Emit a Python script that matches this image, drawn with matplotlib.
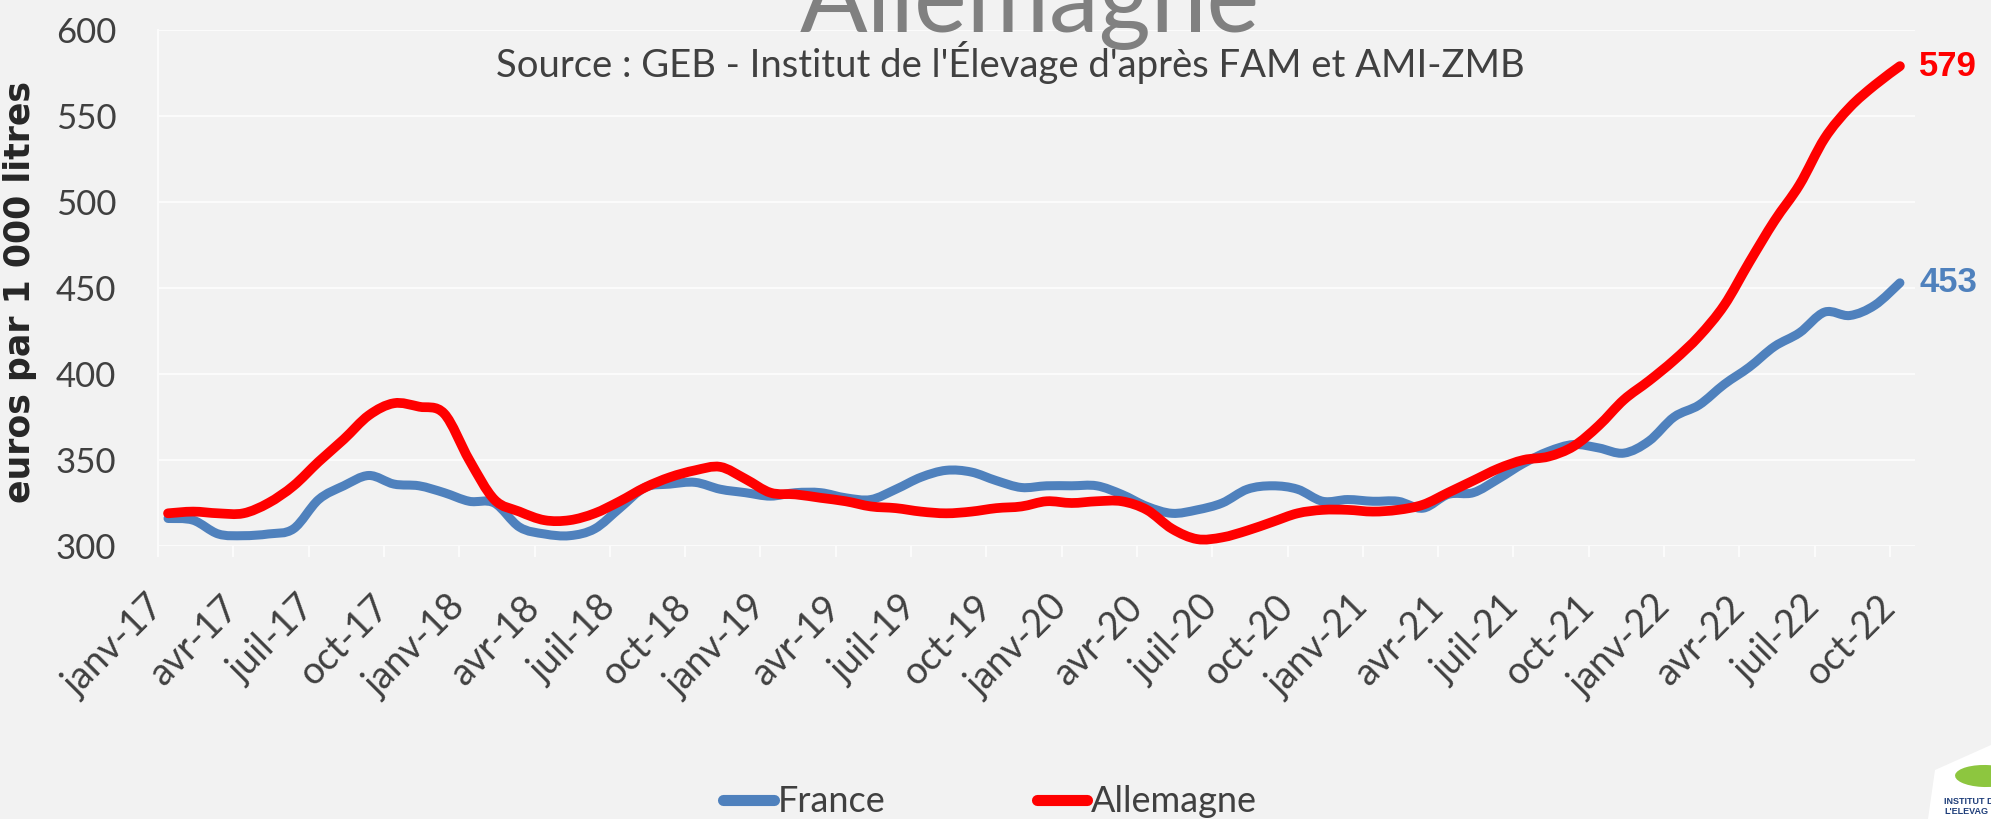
"""
Prix du lait : France vs Allemagne (euros par 1 000 litres), janv-17 à oct-22.
Reproduction du graphique GEB - Institut de l'Élevage.
"""
import numpy as np
import matplotlib
matplotlib.use("Agg")
import matplotlib.pyplot as plt
from matplotlib.lines import Line2D
from matplotlib.path import Path
from matplotlib.patches import Polygon, Ellipse, PathPatch

plt.rcParams["font.family"] = ["Lato", "DejaVu Sans"]

# étiquettes de l'axe des x (une tous les 3 mois)
mois = ["janv-17", "avr-17", "juil-17", "oct-17",
        "janv-18", "avr-18", "juil-18", "oct-18",
        "janv-19", "avr-19", "juil-19", "oct-19",
        "janv-20", "avr-20", "juil-20", "oct-20",
        "janv-21", "avr-21", "juil-21", "oct-21",
        "janv-22", "avr-22", "juil-22", "oct-22"]

# séries mensuelles janv-17 -> oct-22 (70 mois)
france = [316, 315, 307, 306, 307, 310, 327, 335, 341, 336,
          335, 331, 326, 325, 311, 307, 306, 310, 322, 334,
          336, 337, 333, 331, 329, 331, 331, 328, 327, 333,
          340, 344, 343, 338, 334, 335, 335, 335, 330, 323,
          319, 321, 325, 333, 335, 333, 326, 327, 326, 326,
          322, 330, 331, 339, 348, 355, 359, 357, 354, 361,
          375, 382, 394, 404, 416, 424, 436, 434, 440, 453]
allemagne = [319, 320, 319, 319, 325, 335, 349, 362, 376, 383,
             381, 377, 350, 327, 320, 315, 315, 319, 326, 334,
             340, 344, 346, 339, 331, 330, 328, 326, 323, 322,
             320, 319, 320, 322, 323, 326, 325, 326, 326, 321,
             310, 304, 305, 309, 314, 319, 321, 321, 320, 321,
             324, 331, 338, 345, 350, 352, 358, 370, 385, 396,
             408, 422, 440, 465, 489, 510, 537, 555, 568, 579]

BLEU = "#4F81BD"
ROUGE = "#FF0000"
FOND = "#F2F2F2"
GRILLE = "#FBFBFB"
TEXTE = "#404040"


def courbe_lissee(xs, ys):
    """Chemin de Bézier passant par les points (lissage façon Excel)."""
    pts = np.column_stack([xs, ys]).astype(float)
    verts, codes = [pts[0]], [Path.MOVETO]
    for i in range(len(pts) - 1):
        p0 = pts[max(i - 1, 0)]
        p1, p2 = pts[i], pts[i + 1]
        p3 = pts[min(i + 2, len(pts) - 1)]
        verts += [p1 + (p2 - p0) / 6, p2 - (p3 - p1) / 6, p2]
        codes += [Path.CURVE4] * 3
    return Path(verts, codes)


W, H = 1991, 819
fig = plt.figure(figsize=(W / 100, H / 100), dpi=100, facecolor=FOND)
ax = fig.add_axes([158 / W, 1 - 546 / H, (1915 - 158) / W, (546 - 30) / H])
ax.set_facecolor(FOND)

x = np.arange(len(france)) + 0.4      # points placés en milieu de mois
for serie, couleur, ep in ((france, BLEU, 6.5), (allemagne, ROUGE, 7)):
    ax.add_patch(PathPatch(courbe_lissee(x, serie), facecolor="none",
                           edgecolor=couleur, lw=ep, capstyle="round",
                           joinstyle="round"))

# valeurs finales
for serie, couleur in ((allemagne, ROUGE), (france, BLEU)):
    ax.annotate(f"{serie[-1]}", xy=(x[-1], serie[-1]), xytext=(14, 0),
                textcoords="offset points", va="center", ha="left",
                fontsize=25, fontweight="bold", color=couleur,
                family=["Liberation Sans", "DejaVu Sans"],
                annotation_clip=False)

ax.set_xlim(0, 70)
ax.set_ylim(300, 600)
ax.set_yticks(np.arange(300, 601, 50))
ax.set_xticks(np.arange(0, 3 * len(mois), 3))
ax.set_xticklabels(mois, rotation=45, ha="right", va="center",
                   rotation_mode="anchor")
ax.tick_params(axis="x", length=8, width=1.5, color=GRILLE, pad=32,
               labelsize=27, labelcolor=TEXTE)
ax.tick_params(axis="y", length=0, pad=30, labelsize=25, labelcolor=TEXTE)
ax.grid(axis="y", color=GRILLE, lw=1.5)
ax.set_axisbelow(True)
for cote in ("top", "right", "bottom"):
    ax.spines[cote].set_visible(False)
ax.spines["left"].set_color(GRILLE)
ax.spines["left"].set_linewidth(1.5)

ax.set_ylabel("euros par 1 000 litres", fontsize=25, fontweight="bold",
              color="#262626", family=["DejaVu Sans"])
ax.yaxis.set_label_coords(-0.069, 0.492)

# titre (coupé en haut) et source
fig.text(1030 / W, 1 - 32 / H, "Allemagne", ha="center", va="baseline",
         fontsize=72, color="#808080")
fig.text(1010 / W, 1 - 62 / H,
         "Source : GEB - Institut de l'Élevage d'après FAM et AMI-ZMB",
         ha="center", va="center", fontsize=27.5, color=TEXTE)

poignees = [Line2D([], [], color=BLEU, lw=8, solid_capstyle="round"),
            Line2D([], [], color=ROUGE, lw=8, solid_capstyle="round")]
fig.legend(poignees, ["France", "Allemagne"], loc="center",
           bbox_to_anchor=(990 / W, 1 - 802 / H), ncol=2, frameon=False,
           fontsize=26, labelcolor=TEXTE, handlelength=1.4,
           handletextpad=0.1, columnspacing=4.2)

# logo Institut de l'Élevage (coin inférieur droit, partiel)
fig.patches.append(Polygon([(1928 / W, 0), (1935 / W, 1 - 770 / H),
                            (1991 / W, 1 - 745 / H), (1991 / W, 0)],
                           closed=True, transform=fig.transFigure,
                           facecolor="white", edgecolor="none"))
fig.patches.append(Ellipse((1985 / W, 1 - 776 / H), 60 / W, 22 / H,
                           angle=-8, transform=fig.transFigure,
                           facecolor="#8DC63F", edgecolor="none"))
fig.text(1944 / W, 1 - 802 / H, "INSTITUT D", fontsize=6.5,
         fontweight="bold", color="#1F3E7A", va="center",
         family=["Liberation Sans", "DejaVu Sans"])
fig.text(1944 / W, 1 - 812 / H, "L'ELEVAG", fontsize=6.5,
         fontweight="bold", color="#1F3E7A", va="center",
         family=["Liberation Sans", "DejaVu Sans"])

fig.savefig("out.png", dpi=100, facecolor=FOND)
